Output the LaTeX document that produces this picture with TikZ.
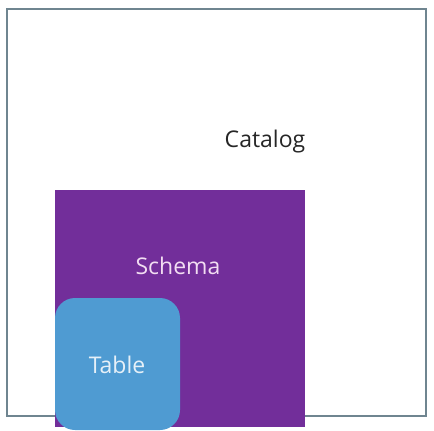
\documentclass[tikz,border=0pt]{standalone}
\usepackage{fontspec}
\setmainfont{Open Sans}
\definecolor{framegray}{HTML}{6F8590}
\definecolor{schemapurple}{HTML}{722E9A}
\definecolor{tableblue}{HTML}{4F9BD2}
\definecolor{schematext}{HTML}{F2DDF2}
\definecolor{tabletext}{HTML}{E6F0F8}
\tikzset{
    boxlabel/.style={font=\fontsize{23}{27}\selectfont, inner sep=0pt}
}
\begin{document}
\begin{tikzpicture}[x=1pt, y=-1pt]

    \useasboundingbox (0,0) rectangle (434,431);

    \node[draw=framegray, line width=1.2pt, minimum width=419pt, minimum height=407pt, inner sep=0pt] (catalog) at (216.5,212.5) {};
    \node[fill=schemapurple, minimum width=250pt, minimum height=237pt, inner sep=0pt] (schema) at (180,308.5) {};
    \node[fill=tableblue, rounded corners=20pt, minimum width=125pt, minimum height=132pt, inner sep=0pt] (table) at (117.5,364) {};

    \node[boxlabel, text=black!85] (catalogtext) at (265,142) {Catalog};
    \node[boxlabel, text=schematext] (schematext) at (178,266) {Schema};
    \node[boxlabel, text=tabletext] (tabletext) at (117,365) {Table};

\end{tikzpicture}
\end{document}
